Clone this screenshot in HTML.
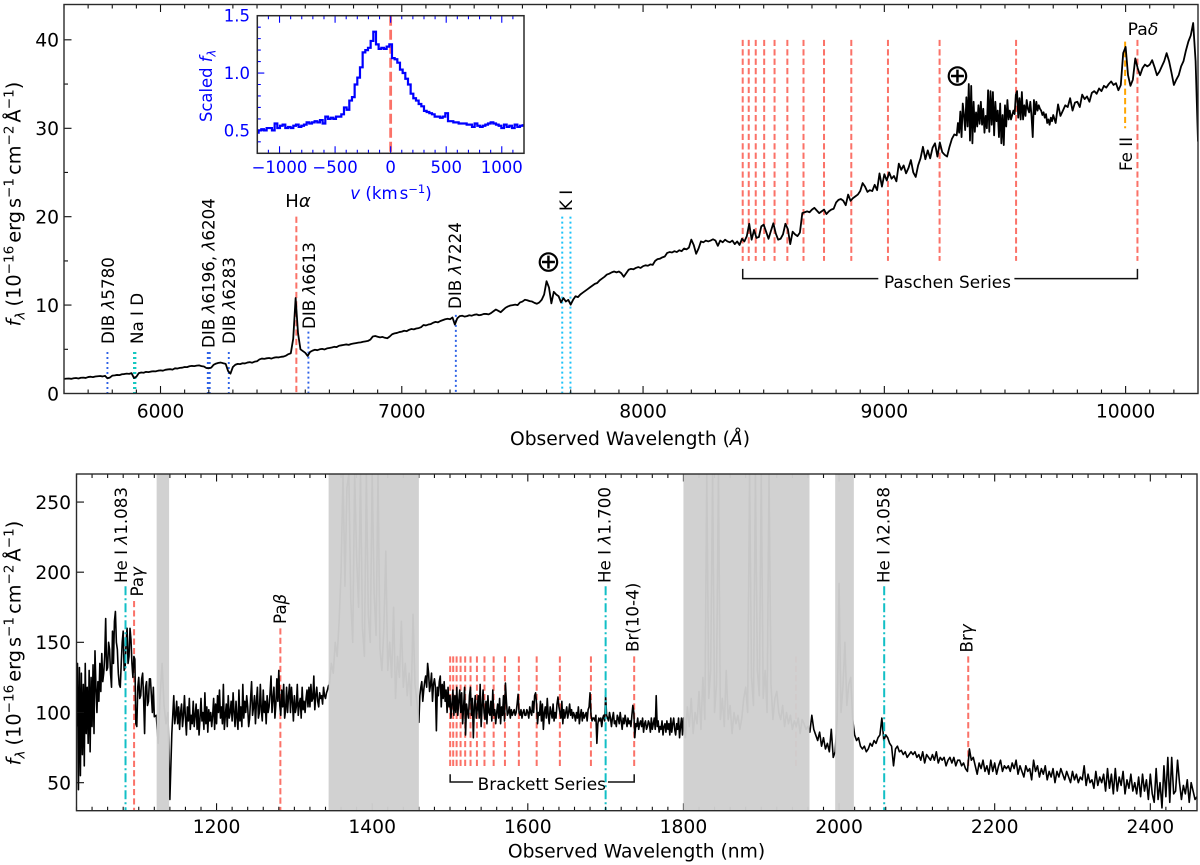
<!DOCTYPE html>
<html lang="en">
<head>
<meta charset="utf-8">
<title>Observed spectrum</title>
<style>
html,body{margin:0;padding:0;background:#fff}
svg{display:block}
text{font-family:"DejaVu Sans","Liberation Sans",sans-serif;fill:#000}
.lab{font-size:16.7px}
.ser{font-size:16.9px}
.axl{font-size:18.7px}
.ylab{font-size:19.3px}
.blue{fill:#0000ff}
</style>
</head>
<body>
<svg id="figure" xmlns="http://www.w3.org/2000/svg" width="1200" height="865" viewBox="0 0 1200 865">
<defs>
<clipPath id="clip-top"><rect x="64" y="4.5" width="1134" height="389"/></clipPath>
<clipPath id="clip-bottom"><rect x="76.5" y="474" width="1120.5" height="336.7"/></clipPath>
<clipPath id="clip-inset"><rect x="257.3" y="15.7" width="266.7" height="137.6"/></clipPath>
</defs>

<g id="top-panel">
  <g id="top-lines" clip-path="url(#clip-top)"></g>
  <g id="top-spectrum" clip-path="url(#clip-top)"></g>
  <g id="top-axes"></g>
  <text class="axl" x="630" y="445" text-anchor="middle">Observed Wavelength (<tspan font-style="italic">Å</tspan>)</text>
  <text class="ylab" transform="translate(20.5,204) rotate(-90)" text-anchor="middle"><tspan font-style="italic">f</tspan><tspan font-style="italic" font-size="13.6" dy="4">λ</tspan><tspan dy="-4" dx="5">(10</tspan><tspan font-size="13.6" dy="-7">−16</tspan><tspan dy="7" dx="3">erg</tspan><tspan dx="3">s</tspan><tspan font-size="13.6" dy="-7">−1</tspan><tspan dy="7" dx="3">cm</tspan><tspan font-size="13.6" dy="-7">−2</tspan><tspan dy="7" dx="3">Å</tspan><tspan font-size="13.6" dy="-7">−1</tspan><tspan dy="7">)</tspan></text>

  <text class="lab" transform="translate(114,344) rotate(-90)">DIB <tspan font-style="italic">λ</tspan>5780</text>
  <text class="lab" transform="translate(143,344) rotate(-90)">Na I D</text>
  <text class="lab" transform="translate(214.5,348) rotate(-90)">DIB <tspan font-style="italic">λ</tspan>6196, <tspan font-style="italic">λ</tspan>6204</text>
  <text class="lab" transform="translate(235,344) rotate(-90)">DIB <tspan font-style="italic">λ</tspan>6283</text>
  <text class="lab" transform="translate(315,329) rotate(-90)">DIB <tspan font-style="italic">λ</tspan>6613</text>
  <text class="lab" transform="translate(461,309) rotate(-90)">DIB <tspan font-style="italic">λ</tspan>7224</text>
  <text class="lab" transform="translate(572,211) rotate(-90)">K I</text>
  <text x="298" y="207" text-anchor="middle" font-size="18">H<tspan font-style="italic">α</tspan></text>
  <text x="1143" y="35" text-anchor="middle" font-size="17.2">Pa<tspan font-style="italic">δ</tspan></text>
  <text class="lab" transform="translate(1132,171) rotate(-90)">Fe II</text>
  <text class="ser" x="947.5" y="288" text-anchor="middle">Paschen Series</text>
  <text x="548.5" y="271.5" text-anchor="middle" font-size="30">⊕</text>
  <text x="957.5" y="85.5" text-anchor="middle" font-size="30">⊕</text>
</g>

<g id="inset-panel">
  <g id="inset-lines" clip-path="url(#clip-inset)"></g>
  <g id="inset-spectrum" clip-path="url(#clip-inset)"></g>
  <g id="inset-axes"></g>
  <text class="blue" x="391" y="199" text-anchor="middle" font-size="16.6"><tspan font-style="italic">v</tspan> (km<tspan dx="2">s</tspan><tspan font-size="11.5" dy="-6">−1</tspan><tspan dy="6">)</tspan></text>
  <text class="blue" transform="translate(212,122) rotate(-90)" font-size="16.4">Scaled <tspan font-style="italic">f</tspan><tspan font-style="italic" font-size="11.5" dy="3.5">λ</tspan></text>
</g>

<g id="bottom-panel">
  <g id="bottom-lines" clip-path="url(#clip-bottom)"></g>
  <g id="bottom-spectrum" clip-path="url(#clip-bottom)"></g>
  <g id="bottom-ticks"></g>
  <g id="bottom-bands" clip-path="url(#clip-bottom)"></g>
  <g id="bottom-axes"></g>
  <text class="axl" x="636.5" y="857.5" text-anchor="middle">Observed Wavelength (nm)</text>
  <text class="ylab" transform="translate(20.5,643) rotate(-90)" text-anchor="middle"><tspan font-style="italic">f</tspan><tspan font-style="italic" font-size="13.6" dy="4">λ</tspan><tspan dy="-4" dx="5">(10</tspan><tspan font-size="13.6" dy="-7">−16</tspan><tspan dy="7" dx="3">erg</tspan><tspan dx="3">s</tspan><tspan font-size="13.6" dy="-7">−1</tspan><tspan dy="7" dx="3">cm</tspan><tspan font-size="13.6" dy="-7">−2</tspan><tspan dy="7" dx="3">Å</tspan><tspan font-size="13.6" dy="-7">−1</tspan><tspan dy="7">)</tspan></text>

  <text class="lab" transform="translate(127,583) rotate(-90)">He I <tspan font-style="italic">λ</tspan>1.083</text>
  <text class="lab" transform="translate(143,596.5) rotate(-90)">Pa<tspan font-style="italic">γ</tspan></text>
  <text class="lab" transform="translate(286,624) rotate(-90)">Pa<tspan font-style="italic">β</tspan></text>
  <text class="lab" transform="translate(610.5,583) rotate(-90)">He I <tspan font-style="italic">λ</tspan>1.700</text>
  <text class="lab" transform="translate(638.5,652) rotate(-90)">Br(10-4)</text>
  <text class="lab" transform="translate(889.5,583) rotate(-90)">He I <tspan font-style="italic">λ</tspan>2.058</text>
  <text class="lab" transform="translate(972.5,652.5) rotate(-90)">Br<tspan font-style="italic">γ</tspan></text>
  <text class="ser" x="541.8" y="790" text-anchor="middle">Brackett Series</text>
</g>

<script>
// ---------- optical spectrum data ----------
const opticalStarts = [5600, 6000, 6500, 7000, 7500, 8000, 8500, 9000, 9300, 9700, 10000];
const opticalSteps = [10, 10, 10, 10, 10, 10, 10, 10, 5, 10, 10];
const flux5600 = [1.65,1.68,1.70,1.66,1.72,1.75,1.70,1.78,1.80,1.76,
  1.86,1.90,1.85,1.92,1.95,1.98,1.93,2.00,1.72,1.80,
  2.02,2.05,2.10,2.08,2.18,2.20,2.25,2.22,2.30,1.75,
  1.90,2.30,2.38,2.35,2.45,2.42,2.48,2.52,2.50,2.58];
const flux6000 = [2.62,2.58,2.68,2.72,2.75,2.70,2.85,2.82,2.90,2.92,
  3.00,2.98,3.08,3.12,3.10,3.15,3.18,3.10,3.05,2.88,
  2.85,2.92,3.25,3.38,3.46,3.50,3.42,3.35,2.55,2.25,
  3.00,3.25,3.35,3.32,3.42,3.40,3.50,3.55,3.48,3.60,
  3.65,3.85,3.95,3.92,3.98,4.02,3.95,4.05,4.10,4.08];
const flux6500 = [4.15,4.18,4.28,4.45,4.55,6.20,10.80,6.80,5.00,4.80,
  4.60,4.25,4.70,4.85,4.95,4.90,5.00,5.05,4.98,5.10,
  5.15,5.20,5.28,5.25,5.40,5.45,5.50,5.55,5.50,5.60,
  5.65,5.70,5.75,5.78,5.85,5.90,5.95,6.10,6.45,6.50,
  6.42,6.35,6.40,6.30,6.25,6.45,6.70,6.80,6.85,6.95];
const flux7000 = [7.00,7.10,7.05,7.20,7.30,7.25,7.35,7.40,7.50,7.75,
  7.70,7.80,7.85,8.00,8.10,8.05,8.20,8.30,8.40,8.45,
  8.40,8.60,7.80,8.50,8.75,8.80,8.70,8.75,8.85,8.80,
  8.90,8.95,8.85,8.90,9.00,9.00,8.95,9.10,9.30,9.50,
  9.35,9.20,9.45,9.70,9.85,9.95,10.00,10.05,10.00,10.30];
const flux7500 = [10.40,10.60,10.55,10.45,10.40,10.25,10.15,10.30,10.60,11.20,
  12.70,12.00,10.20,11.50,11.20,11.00,10.30,10.80,10.40,10.60,
  10.05,10.60,11.00,10.90,11.20,11.40,11.60,11.80,12.00,12.20,
  12.40,12.50,12.80,13.00,13.20,13.45,13.55,13.70,13.80,13.70,
  13.80,13.60,13.20,13.60,14.00,14.10,14.05,14.20,14.30,14.20];
const flux8000 = [14.40,14.50,14.45,14.60,14.55,15.00,15.20,15.25,15.40,15.50,
  15.90,16.00,15.95,16.10,16.00,16.20,16.10,16.40,16.30,16.50,
  17.40,16.80,15.80,16.40,17.20,17.10,17.30,17.20,17.30,17.45,
  17.30,16.70,17.30,17.10,17.40,17.20,17.10,17.30,16.90,17.20,
  16.80,17.50,17.20,17.80,19.20,17.40,18.50,17.60,17.70,18.90];
const flux8500 = [19.10,18.30,17.50,18.40,19.25,18.10,17.40,17.50,18.00,19.20,
  18.60,16.90,18.30,18.00,17.80,18.20,20.40,20.50,20.60,20.50,
  20.80,21.00,20.70,20.40,20.60,20.80,20.30,20.60,20.80,20.90,
  21.60,21.90,22.00,21.80,21.30,22.50,21.80,22.10,22.30,22.50,
  22.90,23.80,23.40,22.80,23.00,22.90,23.60,23.00,24.90,23.40];
const flux9000 = [24.80,24.10,25.00,24.30,24.60,24.00,26.00,25.30,25.80,24.90,
  25.50,26.40,25.00,24.50,25.80,26.60,27.90,26.50,27.50,26.60,
  27.80,28.30,26.80,28.40,27.30,27.00,26.80,27.90,28.80,29.30];
const flux9300 = [29.2,30.6,29.5,31.9,29.0,32.8,31.5,29.8,33.5,30.2,35.0,28.6,34.8,28.3,33.0,29.6,31.8,30.2,32.6,30.5,
  33.0,30.4,32.2,29.5,31.4,30.0,34.3,29.6,34.2,30.4,34.1,29.2,33.0,30.8,32.0,29.0,32.8,28.3,31.5,28.1,
  32.6,30.2,33.2,31.0,32.0,31.0,31.5,32.0,31.6,33.8,34.2,31.2,33.4,31.0,34.1,31.0,32.6,31.4,33.2,32.2,
  31.8,33.0,31.4,29.0,33.2,31.6,33.0,32.0,32.6,32.2,32.0,31.5,31.8,31.2,31.6,30.6,31.0,30.4,31.2,30.8];
const flux9700 = [31.50,30.60,32.70,31.40,32.00,32.60,32.40,33.40,32.00,32.90,
  33.00,32.40,33.80,33.30,33.60,33.00,34.00,34.20,33.90,34.50,
  34.20,34.80,34.60,35.00,35.30,34.90,35.10,34.30,34.90,38.50];
const flux10000 = [39.20,36.00,34.80,35.50,37.90,36.80,36.00,36.80,37.20,37.00,
  37.20,37.70,36.90,36.00,36.40,37.00,37.60,38.50,37.60,36.30,
  34.90,35.50,36.00,37.00,37.60,38.80,39.80,40.50,41.90,37.60,
  28.50];
const opticalFlux = [flux5600,flux6000,flux6500,flux7000,flux7500,flux8000,flux8500,flux9000,flux9300,flux9700,flux10000];

const opticalXTicks = [6000,7000,8000,9000,10000];
const opticalXMinor = [5600,5700,5800,5900,6100,6200,6300,6400,6500,6600,6700,6800,6900,7100,7200,7300,7400,7500,7600,7700,7800,7900,8100,8200,8300,8400,8500,8600,8700,8800,8900,9100,9200,9300,9400,9500,9600,9700,9800,9900,10100,10200];
const opticalYTicks = [0,10,20,30,40];
const opticalYMinor = [5,15,25,35];

const paschenLines = [8413,8438,8467,8502,8545,8598,8665,8750,8863,9015,9229,9546,10049];
const dibLinesA = [5780,6196,6204,6283];
const dibLines6613 = [6613];
const dibLines7224 = [7224];
const naLines = [5890,5896];
const kLines = [7665,7699];
const hAlphaLine = [6563];
const feLine = [9998];

// ---------- inset data (24 km/s per sample) ----------
const insetStart = -1200;
const insetStep = 24;
const insetFlux = [.48,.50,.51,.50,.52,.52,.50,.56,.52,.54,
  .55,.52,.53,.52,.54,.55,.53,.54,.55,.57,
  .56,.57,.58,.57,.59,.56,.62,.60,.61,.60,
  .62,.62,.64,.70,.68,.76,.79,.90,.96,1.05,
  1.18,1.20,1.22,1.28,1.36,1.25,1.21,1.22,1.21,1.23,
  1.25,1.13,1.12,1.09,1.03,1.00,.95,.90,.82,.78,
  .76,.73,.71,.67,.66,.65,.64,.62,.62,.61,
  .62,.65,.58,.58,.57,.57,.56,.56,.56,.55,
  .55,.53,.56,.54,.53,.54,.55,.56,.57,.56,
  .55,.54,.52,.55,.53,.54,.52,.55,.53,.54,.545];
const insetXTicks = [-1000,-500,0,500,1000];
const insetXMinor = [-1200,-1100,-900,-800,-700,-600,-400,-300,-200,-100,100,200,300,400,600,700,800,900,1100];
const insetYTicks = ['0.5','1.0','1.5'];
const insetYMinor = [0.4,0.6,0.7,0.8,0.9,1.1,1.2,1.3,1.4];

// ---------- near-infrared data ----------
const nirStarts = [1020,1120,1145,1345,1460,1800,1965,2020];
const nirSteps = [1.25,2.5,1.25,2.5,1.25,2.5,2.5,2.5];
const nirFlux1020 = [90,135,45,132,55,128,70,120,62,135,85,118,78,130,72,125,90,134,85,144,
  118,100,122,108,135,115,142,122,128,140,167,130,132,150,145,128,118,158,135,165,
  172,150,145,128,120,118,135,150,158,130,132,150,160,135,140,160,152,135,125,140,
  138,92,90,118,125,110,112,124,128,110,85,118,122,105,108,124,124,112,100,118];
const nirFlux1120 = [97,98,78,112,135,105,92,100,38,85];
const nirFlux1145 = [112,92,98,108,92,104,88,100,106,90,98,112,96,84,104,94,110,88,98,92,
  108,90,98,106,88,102,84,96,110,94,100,88,114,92,104,86,102,94,100,90,
  98,110,88,106,92,112,100,116,96,104,92,120,88,98,106,90,112,96,100,108,
  94,114,100,90,108,96,88,116,94,104,90,120,96,108,100,112,104,90,96,110,
  122,98,104,112,92,108,118,96,100,120,102,94,116,100,108,92,112,100,104,114,
  126,100,110,118,96,106,124,108,130,105,98,116,104,120,96,102,118,100,112,120,
  100,118,108,94,112,100,104,120,98,106,110,96,118,102,108,100,110,116,104,118,
  104,120,108,110,126,102,112,118,108,104,114,110,112,106,118,112,110,114,116,119];
const nirFlux1345 = [120,135,128,150,140,165,200,270,190,260,
  270,180,150,270,210,175,270,160,140,270,
  170,150,270,185,155,270,145,130,160,215,
  130,150,125,175,110,140,125,165,118,135,
  112,128,105,170,120,108];
const nirFlux1460 = [93,112,118,122,108,116,122,126,118,135,128,115,120,128,108,120,124,118,87,118,
  112,122,126,104,120,110,122,108,116,100,118,104,112,96,106,116,98,112,100,118,
  98,108,116,100,114,92,104,118,84,106,100,96,112,118,98,110,82,104,112,96,
  102,112,96,120,90,104,116,100,95,108,92,112,100,98,108,94,116,98,102,92,
  100,106,96,110,92,104,98,112,94,121,108,98,100,104,96,102,98,100,102,98,
  100,106,113,100,98,102,96,100,102,98,98,102,100,96,104,100,98,108,100,112,
  114,106,92,100,98,108,94,106,88,100,104,96,110,98,92,104,100,96,106,94,
  100,96,106,111,104,100,96,108,92,102,96,100,104,96,100,106,98,102,96,100,
  98,94,100,96,104,92,98,102,94,100,96,98,100,94,102,104,114,98,94,96,
  96,94,98,78,92,96,94,96,90,96,98,94,112,98,96,94,100,96,90,96,
  100,92,94,90,98,96,92,100,94,88,96,92,98,94,90,96,92,94,90,98,
  105,100,82,92,90,96,88,92,94,90,96,86,92,94,88,90,94,92,86,96,
  88,92,96,88,112,90,94,86,90,88,94,84,90,92,86,94,88,92,84,96,
  86,92,96,88,84,92,88,96,82,90,96,84];
const nirFlux1800 = [96,82,104,90,110,85,100,92,115,88,
  125,95,270,110,130,270,100,120,270,95,
  110,90,130,95,105,85,100,92,98,88,
  96,110,118,100,270,125,105,270,130,112,
  270,110,130,100,270,120,95,110,115,100,
  95,105,90,100,92,98,88,94,90,96,
  85,95,92,88,90,86];
const nirFlux1965 = [98,88,84,80,86,76,82,74,78,72,
  88,68,72,95,192,100,118,150,105,120,
  125,95];
const nirFlux2020 = [84,80,82,76,74,76,72,74,78,76,
  80,78,82,84,96,80,84,82,78,76,
  62,74,76,72,73,70,72,68,70,72,
  70,72,68,70,66,72,64,70,68,66,
  70,66,72,64,68,66,68,62,66,68,
  64,68,62,66,66,62,64,60,58,74,
  66,68,62,56,64,60,66,58,62,56,
  66,58,64,56,62,66,58,62,60,62,
  58,64,60,66,56,62,58,54,62,58,
  60,52,66,58,62,54,60,56,62,52,
  58,54,60,50,58,54,60,56,52,58,
  54,50,58,52,56,50,54,52,62,48,
  56,50,52,46,58,48,54,50,56,44,
  60,46,56,42,60,44,54,48,58,42,
  52,46,56,44,50,42,54,40,56,44,
  52,38,56,42,36,60,38,50,32,62,
  40,68,36,68,42,44,66,50,38,48,
  42,52,36,50,44,38,40];
const nirFlux = [nirFlux1020,nirFlux1120,nirFlux1145,nirFlux1345,nirFlux1460,nirFlux1800,nirFlux1965,nirFlux2020];

const nirXTicks = [1200,1400,1600,1800,2000,2200,2400];
const nirXMinor = [1020,1040,1060,1080,1100,1120,1140,1160,1180,1220,1240,1260,1280,1300,1320,1340,1360,1380,1420,1440,1460,1480,1500,1520,1540,1560,1580,1620,1640,1660,1680,1700,1720,1740,1760,1780,1820,1840,1860,1880,1900,1920,1940,1960,1980,2020,2040,2060,2080,2100,2120,2140,2160,2180,2220,2240,2260,2280,2300,2320,2340,2360,2380,2420,2440];
const nirYTicks = [50,100,150,200,250];

const bandStarts = [1123,1344,1800,1995];
const bandEnds = [1139,1460,1962,2019];
const brackettLines = [1500.2,1504.1,1508.5,1513.6,1519.5,1526.4,1534.6,1544.3,1556.1,1570.6,1588.5,1611.4,1641.2,1681.1,1736.7,1944.6];
const heLines = [1083,1700,2058];
const paGammaBetaLines = [1094,1282];
const brGammaLine = [2166];

// ---------- axis functions ----------
const xTop = v => 64 + (v - 5600) * 1134 / 4700;
const yTop = v => 393.5 - v * 389 / 44;
const xIn = v => 257.3 + (v + 1200) * 266.7 / 2400;
const yIn = v => 153.3 - (v - 0.3) * 137.6 / 1.2;
const xBot = v => 76.5 + (v - 1020) * 1120.5 / 1440;
const yBot = v => 810.7 - (v - 30) * 336.7 / 240;

const NS = 'http://www.w3.org/2000/svg';
function make(parentId, tag, attrs) {
  const el = document.createElementNS(NS, tag);
  Object.keys(attrs).forEach(k => el.setAttribute(k, attrs[k]));
  document.getElementById(parentId).appendChild(el);
  return el;
}
function seriesPath(starts, arrays, steps, fx, fy) {
  let d = '';
  arrays.forEach((arr, i) => {
    arr.forEach((v, j) => {
      d += (d ? 'L' : 'M') + fx(starts[i] + j * steps[i]).toFixed(2) + ' ' + fy(v).toFixed(2);
    });
  });
  return d;
}
function vlines(values, fx, y1, y2) {
  return values.map(v => 'M' + fx(v).toFixed(2) + ' ' + y1.toFixed(2) + 'V' + y2.toFixed(2)).join('');
}
const RED = '#fb7268';
const DASH = '6.2 3.2';
const DOT = '2 3';

// ---------- optical panel marks ----------
const paschenMarks = make('top-lines', 'path', {d: vlines(paschenLines, xTop, yTop(40), yTop(15)), stroke: RED, 'stroke-width': 2, 'stroke-dasharray': DASH, fill: 'none'});



const hAlphaMark = make('top-lines', 'path', {d: vlines(hAlphaLine, xTop, yTop(20), yTop(0)), stroke: RED, 'stroke-width': 2, 'stroke-dasharray': DASH, fill: 'none'});



const dibA = make('top-lines', 'path', {d: vlines(dibLinesA, xTop, yTop(4.7), yTop(0)), stroke: '#2e62e6', 'stroke-width': 1.9, 'stroke-dasharray': DOT, fill: 'none'});



const dibB = make('top-lines', 'path', {d: vlines(dibLines6613, xTop, yTop(7), yTop(0)), stroke: '#2e62e6', 'stroke-width': 1.9, 'stroke-dasharray': DOT, fill: 'none'});



const dibC = make('top-lines', 'path', {d: vlines(dibLines7224, xTop, yTop(8.9), yTop(0)), stroke: '#2e62e6', 'stroke-width': 1.9, 'stroke-dasharray': DOT, fill: 'none'});



const naMark = make('top-lines', 'path', {d: vlines(naLines, xTop, yTop(4.7), yTop(0)), stroke: '#14c8c0', 'stroke-width': 1.9, 'stroke-dasharray': DOT, fill: 'none'});



const kMark = make('top-lines', 'path', {d: vlines(kLines, xTop, yTop(20), yTop(0)), stroke: '#1cc4fb', 'stroke-width': 2, 'stroke-dasharray': DOT, fill: 'none'});



const feMark = make('top-lines', 'path', {d: vlines(feLine, xTop, yTop(39.8), yTop(30)), stroke: '#ffa500', 'stroke-width': 2, 'stroke-dasharray': DASH, fill: 'none'});



const opticalLine = make('top-spectrum', 'path', {d: seriesPath(opticalStarts, opticalFlux, opticalSteps, xTop, yTop), stroke: '#000', 'stroke-width': 1.8, fill: 'none', 'stroke-linejoin': 'round'});



const pA = xTop(paschenLines[0]), pB = xTop(paschenLines[paschenLines.length - 1]);
const pY = yTop(13), pT = yTop(14.1);
const paschenBracket = make('top-axes', 'path', {d: 'M' + pA + ' ' + pT + 'V' + pY + 'H' + xTop(8975) + 'M' + xTop(9539) + ' ' + pY + 'H' + pB + 'V' + pT, stroke: '#111', 'stroke-width': 1.5, fill: 'none'});



// ---------- tick drawing ----------
const TICK = '#111';
function xTickPath(vals, fx, yb, yt, len) {
  return vals.map(v => 'M' + fx(v).toFixed(2) + ' ' + yb + 'v' + (-len) + 'M' + fx(v).toFixed(2) + ' ' + yt + 'v' + len).join('');
}
function yTickPath(vals, fy, xl, len) {
  return vals.map(v => 'M' + xl + ' ' + fy(+v).toFixed(2) + 'h' + len).join('');
}

const opticalTicks = make('top-axes', 'path', {d: xTickPath(opticalXTicks, xTop, 393.5, 4.5, 7.5) + xTickPath(opticalXMinor, xTop, 393.5, 4.5, 4) + yTickPath(opticalYTicks, yTop, 64, 7.5) + yTickPath(opticalYMinor, yTop, 64, 4), stroke: TICK, 'stroke-width': 1.1, fill: 'none'});



const opticalFrame = make('top-axes', 'rect', {x: 64, y: 4.5, width: 1134, height: 389, fill: 'none', stroke: '#2a2a2a', 'stroke-width': 1.4});



opticalXTicks.forEach(v => {
  const t = make('top-axes', 'text', {x: xTop(v), y: 417.5, 'text-anchor': 'middle', 'font-size': 18.7});
  
  
  t.textContent = String(v);
});
opticalYTicks.forEach(v => {
  const t = make('top-axes', 'text', {x: 59, y: yTop(v) + 6.8, 'text-anchor': 'end', 'font-size': 18.7});
  
  
  t.textContent = String(v);
});

// ---------- inset ----------
const insetZero = make('inset-lines', 'path', {d: vlines([0], xIn, 15.7, 153.3), stroke: RED, 'stroke-width': 2.8, 'stroke-dasharray': '10 4', fill: 'none'});



let insetD = '';
insetFlux.forEach((v, i) => {
  const c = insetStart + i * insetStep;
  insetD += (i ? 'L' : 'M') + xIn(c - insetStep / 2).toFixed(2) + ' ' + yIn(v).toFixed(2) + 'L' + xIn(c + insetStep / 2).toFixed(2) + ' ' + yIn(v).toFixed(2);
});
const insetLine = make('inset-spectrum', 'path', {d: insetD, stroke: '#0000ff', 'stroke-width': 2.2, fill: 'none'});



const insetTicks = make('inset-axes', 'path', {d: xTickPath(insetXTicks, xIn, 153.3, 15.7, 7) + xTickPath(insetXMinor, xIn, 153.3, 15.7, 3.5) + yTickPath(insetYTicks, yIn, 257.3, 7) + yTickPath(insetYMinor, yIn, 257.3, 3.5), stroke: '#0000ff', 'stroke-width': 1.1, fill: 'none'});



const insetFrame = make('inset-axes', 'rect', {x: 257.3, y: 15.7, width: 266.7, height: 137.6, fill: 'none', stroke: '#2a2a2a', 'stroke-width': 1.5});



insetXTicks.forEach(v => {
  const t = make('inset-axes', 'text', {x: xIn(v), y: 173, 'text-anchor': 'middle', 'font-size': 16.5, style: 'fill:#0000ff'});
  
  
  t.textContent = String(v).replace('-', '−');
});
insetYTicks.forEach(v => {
  const t = make('inset-axes', 'text', {x: 250, y: yIn(+v) + 6, 'text-anchor': 'end', 'font-size': 16.5, style: 'fill:#0000ff'});
  
  
  t.textContent = v;
});

// ---------- near-infrared panel marks ----------
const brackettMarks = make('bottom-lines', 'path', {d: vlines(brackettLines, xBot, yBot(140), yBot(60.5)), stroke: RED, 'stroke-width': 2, 'stroke-dasharray': DASH, fill: 'none'});



const brGammaMark = make('bottom-lines', 'path', {d: vlines(brGammaLine, xBot, yBot(140), yBot(60.5)), stroke: RED, 'stroke-width': 2, 'stroke-dasharray': DASH, fill: 'none'});



const paMarks = make('bottom-lines', 'path', {d: vlines(paGammaBetaLines.slice(0, 1), xBot, yBot(179.5), yBot(30)) + vlines(paGammaBetaLines.slice(1), xBot, yBot(160), yBot(30)), stroke: RED, 'stroke-width': 2, 'stroke-dasharray': DASH, fill: 'none'});



const nirLine = make('bottom-spectrum', 'path', {d: seriesPath(nirStarts, nirFlux, nirSteps, xBot, yBot), stroke: '#000', 'stroke-width': 1.6, fill: 'none', 'stroke-linejoin': 'round'});



const heMarks = make('bottom-spectrum', 'path', {d: vlines(heLines, xBot, yBot(190), yBot(30)), stroke: '#12bfc6', 'stroke-width': 2, 'stroke-dasharray': '9 3 2 3', fill: 'none'});



const nirTicks = make('bottom-ticks', 'path', {d: xTickPath(nirXTicks, xBot, 810.7, 474, 7.5) + xTickPath(nirXMinor, xBot, 810.7, 474, 4) + yTickPath(nirYTicks, yBot, 76.5, 7.5), stroke: TICK, 'stroke-width': 1.1, fill: 'none'});



bandStarts.forEach((s, i) => {
  const r = make('bottom-bands', 'rect', {x: xBot(s), y: 474, width: xBot(bandEnds[i]) - xBot(s), height: 336.7, fill: '#cfcfcf', opacity: 0.96});
  
  
});

const bA = xBot(brackettLines[0]), bB = xBot(brackettLines[14]);
const bY = yBot(50.5), bT = yBot(56);
const brackettBracket = make('bottom-axes', 'path', {d: 'M' + bA + ' ' + bT + 'V' + bY + 'H' + xBot(1529.6) + 'M' + xBot(1703) + ' ' + bY + 'H' + bB + 'V' + bT, stroke: '#111', 'stroke-width': 1.5, fill: 'none'});



const nirFrame = make('bottom-axes', 'rect', {x: 76.5, y: 474, width: 1120.5, height: 336.7, fill: 'none', stroke: '#2a2a2a', 'stroke-width': 1.4});



nirXTicks.forEach(v => {
  const t = make('bottom-axes', 'text', {x: xBot(v), y: 833, 'text-anchor': 'middle', 'font-size': 18.7});
  
  
  t.textContent = String(v);
});
nirYTicks.forEach(v => {
  const t = make('bottom-axes', 'text', {x: 71, y: yBot(v) + 6.8, 'text-anchor': 'end', 'font-size': 18.7});
  
  
  t.textContent = String(v);
});
</script>
</svg>
</body>
</html>
